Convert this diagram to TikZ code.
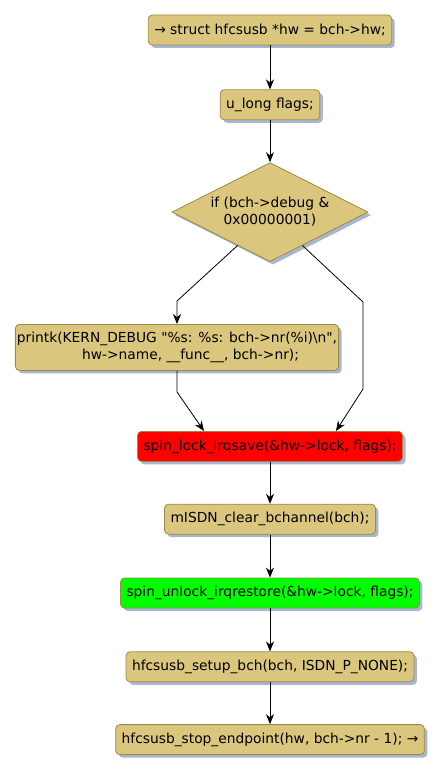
\documentclass[tikz,border=0pt]{standalone}
\usepackage{fontspec}
\setmainfont{DejaVu Sans}[Ligatures=TeXOff]
\usetikzlibrary{positioning,arrows.meta,shapes.geometric,shadows,calc}
\definecolor{actfill}{RGB}{219,198,125}
\definecolor{actrule}{RGB}{158,138,70}
\definecolor{shadeblue}{RGB}{168,182,210}
\definecolor{lockred}{RGB}{255,0,0}
\definecolor{unlockgreen}{RGB}{0,255,0}
\tikzset{
  act/.style={rectangle,rounded corners=4pt,draw=actrule,line width=0.8pt,fill=actfill,align=center,inner xsep=6pt,minimum height=30pt,font=\fontsize{13.8}{17}\selectfont,drop shadow={shadow xshift=3pt,shadow yshift=-3pt,fill=shadeblue,opacity=1}},
  lockact/.style={act,fill=lockred},
  unlockact/.style={act,fill=unlockgreen},
  cond/.style={diamond,aspect=2,inner sep=0pt,minimum width=196pt,minimum height=99pt,draw=actrule,line width=0.8pt,fill=actfill,align=center,font=\fontsize{13.8}{17}\selectfont,drop shadow={shadow xshift=3pt,shadow yshift=-3pt,fill=shadeblue,opacity=1}},
  edge/.style={-{Stealth[length=10pt,width=8pt]},line width=0.8pt}
}
\begin{document}
\begin{tikzpicture}[x=1pt,y=1pt]
  \useasboundingbox (0,0) rectangle (443,-776);
  \node[act] (hw) at (270,-30) {→ struct hfcsusb *hw = bch->hw;};
  \node[act,below=44pt of hw] (flags) {u\_long flags;};
  \node[cond,below=42pt of flags] (dbg) {if (bch->debug \&\\0x00000001)};
  \node[act,below=62pt of dbg,xshift=-93pt,minimum height=46pt,inner xsep=1.5pt] (prk) {printk(KERN\_DEBUG "\%s: \%s: bch->nr(\%i)\textbackslash n",\\\hspace*{27pt}hw->name, \_\_func\_\_, bch->nr);};
  \node[lockact,below=169pt of dbg] (lock) {spin\_lock\_irqsave(\&hw->lock, flags);};
  \node[act,below=42pt of lock] (clr) {mISDN\_clear\_bchannel(bch);};
  \node[unlockact,below=43pt of clr] (unlock) {spin\_unlock\_irqrestore(\&hw->lock, flags);};
  \node[act,below=43pt of unlock] (setup) {hfcsusb\_setup\_bch(bch, ISDN\_P\_NONE);};
  \node[act,below=42pt of setup] (stop) {hfcsusb\_stop\_endpoint(hw, bch->nr - 1); →};
  \draw[edge] (hw) -- (flags);
  \draw[edge] (flags) -- (dbg);
  \draw[edge] ($(dbg.west)!0.67!(dbg.south)$) -- ([yshift=23pt]prk.north) -- (prk.north);
  \draw[edge] ($(dbg.east)!0.67!(dbg.south)$) -- ([xshift=93pt,yshift=129pt]lock.north) -- ([xshift=93pt,yshift=42pt]lock.north) -- ([xshift=66pt]lock.north);
  \draw[edge] (prk.south) -- ([xshift=-93pt,yshift=39pt]lock.north) -- ([xshift=-66pt]lock.north);
  \draw[edge] (lock) -- (clr);
  \draw[edge] (clr) -- (unlock);
  \draw[edge] (unlock) -- (setup);
  \draw[edge] (setup) -- (stop);
\end{tikzpicture}
\end{document}
